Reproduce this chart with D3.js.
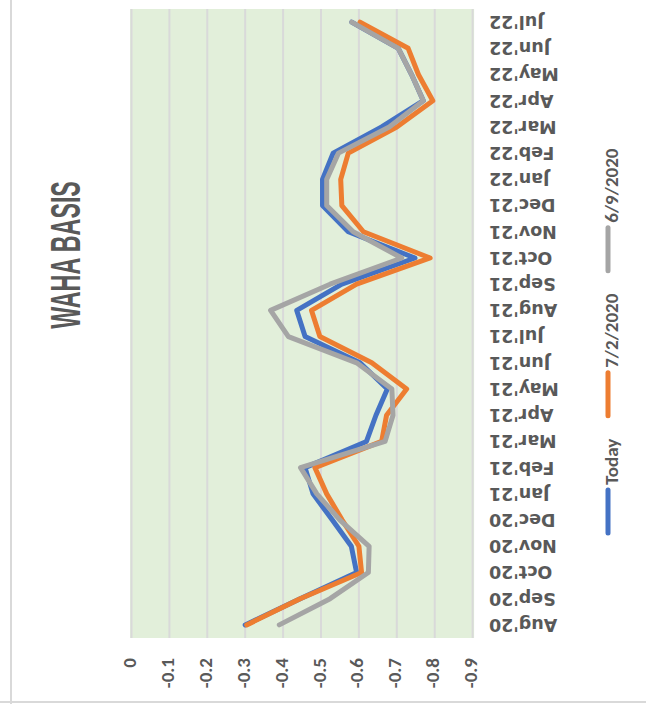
<!DOCTYPE html>
<html>
<head>
<meta charset="utf-8">
<script src="https://cdn.jsdelivr.net/npm/d3@7"></script>
<style>
  body { margin: 0; background: #fff; }
  svg { display: block; }
  text { font-family: Carlito, "Liberation Sans", Arial, sans-serif; fill: #595959; font-weight: bold; }
</style>
</head>
<body>
<script>
// chart is drawn turned a quarter turn counter-clockwise, like the picture
const months = ["Aug'20", "Sep'20", "Oct'20", "Nov'20", "Dec'20", "Jan'21", "Feb'21", "Mar'21",
  "Apr'21", "May'21", "Jun'21", "Jul'21", "Aug'21", "Sep'21", "Oct'21", "Nov'21", "Dec'21",
  "Jan'22", "Feb'22", "Mar'22", "Apr'22", "May'22", "Jun'22", "Jul'22"]

const today = [-0.300, -0.445, -0.594, -0.580, -0.530, -0.479, -0.458, -0.620, -0.645, -0.675, -0.603, -0.458,
  -0.436, -0.555, -0.748, -0.572, -0.504, -0.504, -0.532, -0.660, -0.770, -0.739, -0.704, -0.581]
const jul2 = [-0.304, -0.445, -0.607, -0.600, -0.556, -0.515, -0.484, -0.660, -0.673, -0.726, -0.634, -0.497,
  -0.475, -0.594, -0.788, -0.612, -0.555, -0.552, -0.572, -0.700, -0.795, -0.757, -0.730, -0.603]
const jun9 = [-0.390, -0.524, -0.625, -0.627, -0.550, -0.489, -0.446, -0.669, -0.690, -0.687, -0.594, -0.414,
  -0.367, -0.524, -0.713, -0.585, -0.515, -0.515, -0.546, -0.680, -0.770, -0.739, -0.704, -0.581]

const seriesNames = ["Today", "7/2/2020", "6/9/2020"]
const seriesColors = ["#4472C4", "#ED7D31", "#A5A5A5"]
const valueTicks = [0, -0.1, -0.2, -0.3, -0.4, -0.5, -0.6, -0.7, -0.8, -0.9]

const width = 646, height = 704

const svg = d3.select("body").append("svg")
  .attr("width", width)
  .attr("height", height)

// frame edges
svg.append("line").attr("x1", 11).attr("x2", 11).attr("y1", 0).attr("y2", height)
  .attr("stroke", "#d9d9d9").attr("stroke-width", 2)
svg.append("line").attr("x1", 0).attr("x2", width).attr("y1", 702).attr("y2", 702)
  .attr("stroke", "#d9d9d9").attr("stroke-width", 2)

const x = d3.scaleLinear().domain([0, -0.9]).range([131.5, 472.6])
const y = d3.scaleBand().domain(months).range([638, 9])
const yc = (m) => y(m) + y.bandwidth() / 2

// plot area
svg.append("rect")
  .attr("x", x(0) - 1.5).attr("y", y.range()[1])
  .attr("width", x(-0.9) - x(0) + 3).attr("height", y.range()[0] - y.range()[1])
  .attr("fill", "#E2EFDA")

svg.append("g").attr("class", "grid")
  .selectAll("line")
  .data(valueTicks)
  .enter().append("line")
  .attr("x1", (d) => x(d)).attr("x2", (d) => x(d))
  .attr("y1", y.range()[1]).attr("y2", y.range()[0])
  .attr("stroke", "#d9d9d9")
  .attr("stroke-width", 2)

// value labels
svg.append("g")
  .selectAll("text")
  .data(valueTicks)
  .enter().append("text")
  .attr("transform", (d) => `translate(${x(d) + 4.5},658) rotate(-90)`)
  .attr("text-anchor", "end")
  .style("font-size", "19px")
  .text((d) => String(d))

// month labels
svg.append("g")
  .selectAll("text")
  .data(months)
  .enter().append("text")
  .attr("transform", (d) => `translate(489,${yc(d)}) rotate(180)`)
  .attr("text-anchor", "end")
  .attr("dy", "0.35em")
  .style("font-family", '"DejaVu Sans", sans-serif')
  .style("font-size", "17.5px")
  .text((d) => d)

// lines
const series = [today, jul2, jun9]
const line = d3.line()
  .x((d) => x(d))
  .y((d, i) => yc(months[i]))

svg.append("g")
  .selectAll("path")
  .data(series)
  .enter().append("path")
  .attr("d", (d) => line(d))
  .attr("fill", "none")
  .attr("stroke", (d, i) => seriesColors[i])
  .attr("stroke-width", 5)
  .attr("stroke-linejoin", "round")
  .attr("stroke-linecap", "round")

// title
svg.append("text")
  .attr("transform", "translate(80,255) rotate(-90) scale(0.554,1)")
  .attr("text-anchor", "middle")
  .style("font-family", '"Liberation Sans", Arial, sans-serif')
  .style("font-size", "42px")
  .text("WAHA BASIS")

// legend, reading upward from the bottom
const legend = svg.append("g")
let pos = 533
seriesNames.forEach((name, i) => {
  legend.append("line")
    .attr("x1", 608).attr("x2", 608)
    .attr("y1", pos).attr("y2", pos - 43)
    .attr("stroke", seriesColors[i])
    .attr("stroke-width", 5)
    .attr("stroke-linecap", "round")
  const t = legend.append("text")
    .attr("transform", `translate(618,${pos - 48}) rotate(-90)`)
    .style("font-size", "19px")
    .text(name)
  pos = pos - 48 - t.node().getComputedTextLength() - 23
})
</script>
</body>
</html>
